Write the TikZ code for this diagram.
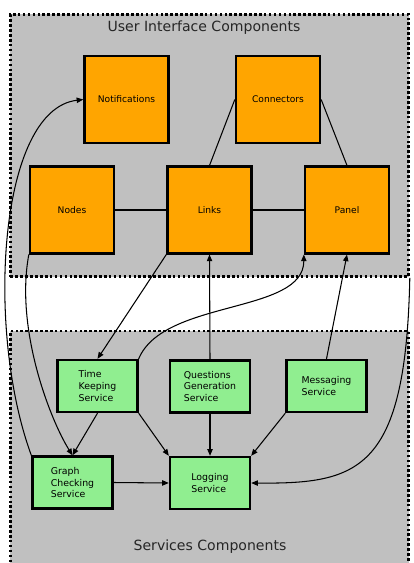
\documentclass[tikz,border=0pt]{standalone}
\usepackage{fontspec}
\setmainfont{DejaVu Sans}
\usetikzlibrary{arrows.meta}
\definecolor{clGray}{RGB}{192,192,192}
\definecolor{uiOrange}{RGB}{255,165,0}
\definecolor{svcGreen}{RGB}{144,238,144}
\tikzset{
  cluster/.style={rectangle,draw=black,fill=clGray,line width=2.2pt,
    dash pattern=on 2.2pt off 2pt,minimum width=11.94cm,
    minimum height=#1,inner sep=0pt},
  cltitle/.style={font=\fontsize{12}{14}\selectfont,text=black!85},
  uibox/.style={rectangle,draw=black,fill=uiOrange,line width=2pt,
    minimum width=2.52cm,minimum height=2.6cm,
    font=\fontsize{7.8}{9}\selectfont},
  svcbox/.style={rectangle,draw=black,fill=svcGreen,line width=2pt,
    minimum width=2.4cm,minimum height=1.56cm,align=left,
    font=\fontsize{8}{10}\selectfont},
  arrow/.style={-{Triangle[length=2mm,width=1.6mm]},draw=black,line width=0.9pt},
  link/.style={draw=black,line width=0.9pt}
}
\begin{document}
\begin{tikzpicture}[x=0.03cm,y=-0.03cm]
  \useasboundingbox (0,0) rectangle (413,563);
  % clusters
  \node[cluster=7.86cm] (ui) at (209.5,145.5) {};
  \node[cluster=7.2cm] (svc) at (209.5,451) {};
  \node[cltitle] (uititle) at (204,28) {User Interface Components};
  \node[cltitle] (svctitle) at (210,547) {Services Components};
  % user interface
  \node[uibox] (notif) at (126.5,99.5) {Notifications};
  \node[uibox] (conn) at (278,99.5) {Connectors};
  \node[uibox] (nodes) at (72,210) {Nodes};
  \node[uibox] (links) at (209.5,210) {Links};
  \node[uibox] (panel) at (347,210) {Panel};
  % services
  \node[svcbox] (time) at (97.5,386) {Time\\Keeping\\Service};
  \node[svcbox] (quest) at (210,386.5) {Questions\\Generation\\Service};
  \node[svcbox] (msg) at (326.5,386) {Messaging\\Service};
  \node[svcbox] (graph) at (72.5,482.5) {Graph\\Checking\\Service};
  \node[svcbox] (log) at (210,483) {Logging\\Service};
  % plain links
  \draw[link] (nodes) -- (links);
  \draw[link] (links) -- (panel);
  \draw[link] (links.north) -- (conn.west);
  \draw[link] (conn.east) -- (panel.north);
  % arrows
  \draw[arrow] (links.south west) -- (time.north);
  \draw[arrow] (quest.north) -- (links.south);
  \draw[arrow] (msg.north) -- (panel.south);
  \draw[arrow] (time.north east) .. controls +(25,-60) and +(0,60) .. (panel.south west);
  \draw[arrow] (nodes.south west) .. controls +(-14,75) and +(-22,-35) .. (graph.north);
  \draw[arrow] (graph.north west) .. controls +(-46,-125) and +(-85,10) .. (notif.west);
  \draw[arrow] (ui.south east) .. controls +(-4,193) and +(108,1) .. (log.east);
  \draw[arrow] (time.south) -- (graph.north);
  \draw[arrow] (time.south east) -- (log.north west);
  \draw[arrow] (quest.south) -- (log.north);
  \draw[arrow] (msg.south west) -- (log.north east);
  \draw[arrow] (graph.east) -- (log.west);
\end{tikzpicture}
\end{document}
